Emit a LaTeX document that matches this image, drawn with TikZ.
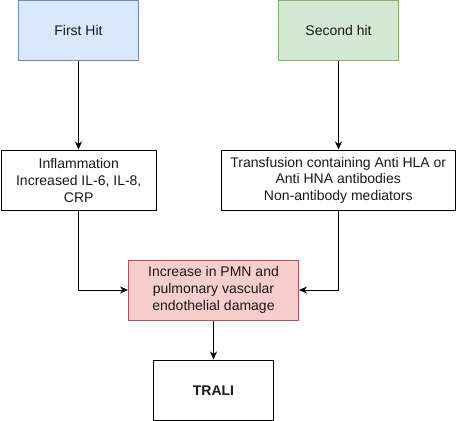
\documentclass[tikz,border=0pt]{standalone}
\usepackage{fontspec}
\setmainfont{Liberation Sans}
\usetikzlibrary{arrows.meta,positioning}
\definecolor{bluefill}{HTML}{DAE8FC}
\definecolor{blueline}{HTML}{6C8EBF}
\definecolor{greenfill}{HTML}{D5E8D4}
\definecolor{greenline}{HTML}{82B366}
\definecolor{redfill}{HTML}{F8CECC}
\definecolor{redline}{HTML}{B85450}
\tikzset{
  box/.style={draw=black, line width=1pt, fill=white, inner sep=0pt, align=center,
    font=\fontsize{14}{16.8}\selectfont, text=black!90},
  conn/.style={line width=1pt, -{Stealth[length=8pt,width=7pt,inset=2.5pt]}},
}
\begin{document}
\begin{tikzpicture}[x=1pt,y=-1pt]
\useasboundingbox (0,0) rectangle (456,421);
\node[box, fill=bluefill, draw=blueline, minimum width=120pt, minimum height=60.5pt] (first) at (78.5,30.25) {First Hit};
\node[box, fill=greenfill, draw=greenline, minimum width=120pt, minimum height=60.5pt] (second) at (338.5,30.25) {Second hit};
\node[box, minimum width=154.5pt, minimum height=60.5pt] (infl) at (78.75,180.25) {Inflammation\\Increased IL-6, IL-8,\\CRP};
\node[box, minimum width=234.5pt, minimum height=60.5pt] (trans) at (338.25,180.25) {Transfusion containing Anti HLA or\\Anti HNA antibodies\\Non-antibody mediators};
\node[box, fill=redfill, draw=redline, minimum width=170pt, minimum height=60pt] (incr) at (213.5,290) {Increase in PMN and\\pulmonary vascular\\endothelial damage};
\node[box, minimum width=120pt, minimum height=60.5pt] (trali) at (213.5,390.25) {\bfseries TRALI};
\draw[conn] (first.south) -- (first.south |- infl.north);
\draw[conn] (second.south) -- (second.south |- trans.north);
\draw[conn] (first.south |- infl.south) |- (incr.west);
\draw[conn] (second.south |- trans.south) |- (incr.east);
\draw[conn] (incr.south) -- (trali.north);
\end{tikzpicture}
\end{document}
